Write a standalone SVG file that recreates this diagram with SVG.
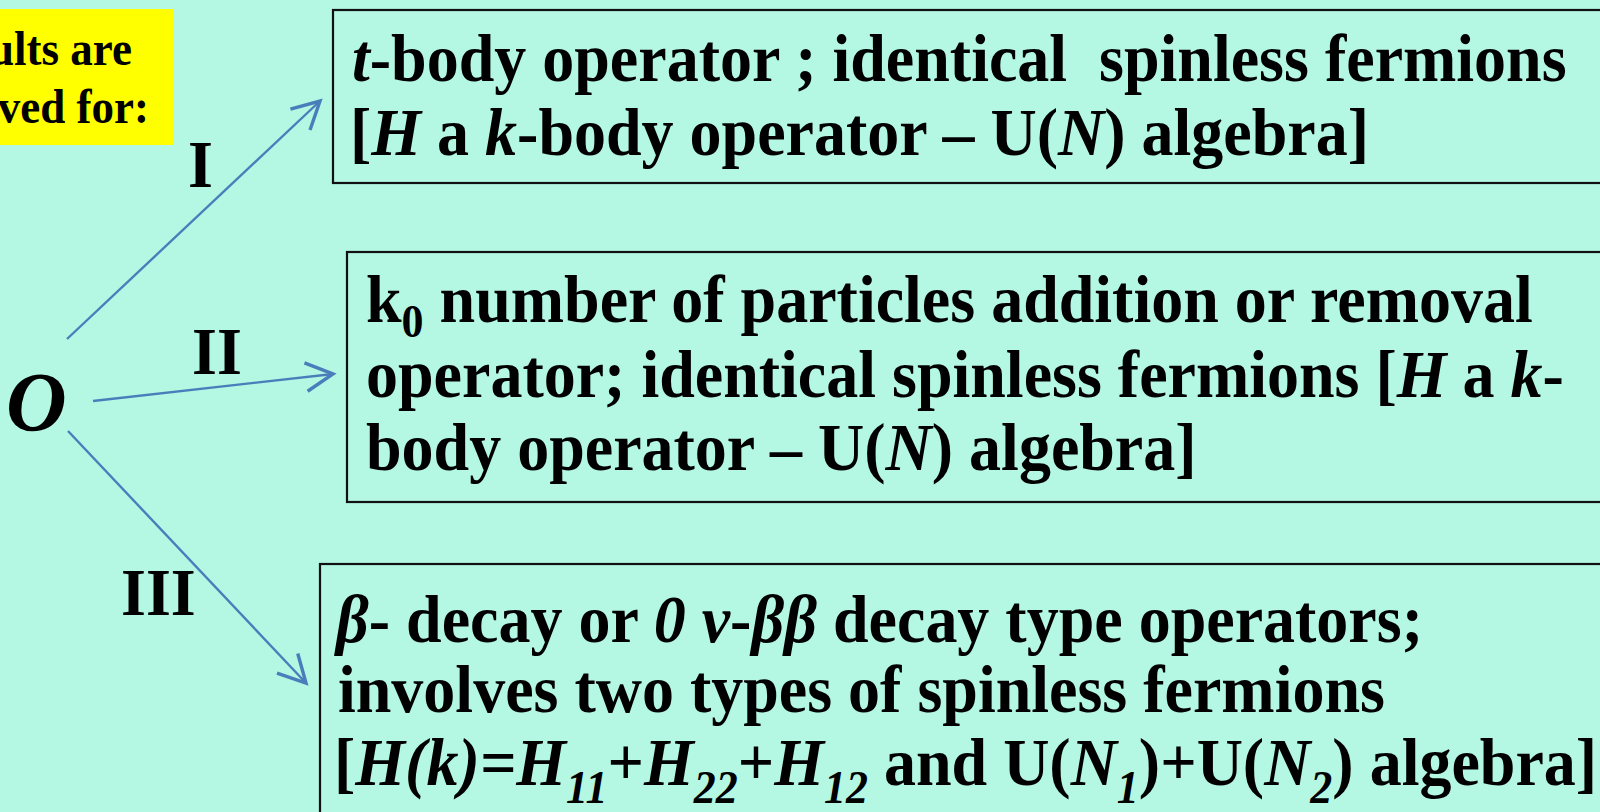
<svg xmlns="http://www.w3.org/2000/svg" width="1600" height="812" viewBox="0 0 1600 812">
<defs>
<style>
.t{font-family:"Liberation Serif","Times New Roman",serif;font-weight:bold;fill:#000;white-space:pre}
.f{font-size:64px}
.i{font-style:italic}
.sub{font-size:44px}
.box{fill:none;stroke:#111;stroke-width:2.2}
.con{fill:none;stroke:#4A7EBB;stroke-width:2.4}
</style>
<marker id="ah" markerUnits="userSpaceOnUse" markerWidth="40" markerHeight="40" refX="0" refY="0" viewBox="-22 -14 26 28" orient="auto" overflow="visible">
<path d="M -19,-10 L 0,0 L -19,10" fill="none" stroke="#4A7EBB" stroke-width="2.4"/>
</marker>
</defs>
<rect x="0" y="0" width="1600" height="812" fill="#B4F7E3"/>

<g id="note">
<rect x="0" y="9" width="173" height="136" fill="#FFFF00"/>
<text class="t" font-size="45" transform="translate(132,65) scale(1,1.07)" text-anchor="end">ults are</text>
<text class="t" font-size="45" transform="translate(149,123) scale(1,1.07)" text-anchor="end">ved for:</text>
</g>

<g id="origin">
<text class="t i" font-size="84" x="6" y="431">O</text>
</g>

<g id="connectors">
<line class="con" x1="67" y1="339" x2="320" y2="101" marker-end="url(#ah)"/>
<line class="con" x1="93" y1="401" x2="333" y2="374" marker-end="url(#ah)"/>
<line class="con" x1="68" y1="431" x2="306" y2="683" marker-end="url(#ah)"/>
<text class="t f" transform="translate(188,187) scale(1,1.05)">I</text>
<text class="t f" transform="translate(192,374) scale(1,1.05)">II</text>
<text class="t f" transform="translate(121,615) scale(1,1.05)">III</text>
</g>

<g id="box1">
<rect class="box" x="333" y="10" width="1290" height="173"/>
<text class="t f" transform="translate(352,81) scale(1,1.07)"><tspan class="i">t</tspan>-body operator ; identical  spinless fermions</text>
<text class="t f" transform="translate(350,155) scale(1,1.07)">[<tspan class="i">H</tspan> a <tspan class="i">k</tspan>-body operator – U(<tspan class="i">N</tspan>) algebra]</text>
</g>

<g id="box2">
<rect class="box" x="347" y="252" width="1280" height="250"/>
<text class="t f" transform="translate(366,322) scale(1,1.07)">k<tspan class="sub" dy="14">0</tspan><tspan dy="-14"> number of particles addition or removal</tspan></text>
<text class="t f" transform="translate(366,397) scale(1,1.07)">operator; identical spinless fermions [<tspan class="i">H</tspan> a <tspan class="i">k</tspan>-</text>
<text class="t f" transform="translate(366,470) scale(1,1.07)">body operator – U(<tspan class="i">N</tspan>) algebra]</text>
</g>

<g id="box3">
<rect class="box" x="320" y="564" width="1300" height="270"/>
<text class="t f" transform="translate(336,642) scale(1,1.07)"><tspan class="i">β</tspan>- decay or <tspan class="i">0 ν</tspan>-<tspan class="i">ββ</tspan> decay type operators;</text>
<text class="t f" transform="translate(338,712) scale(1,1.07)">involves two types of spinless fermions</text>
<text class="t f" transform="translate(334,785) scale(1,1.07)">[<tspan class="i">H(k)=H</tspan><tspan class="i sub" dy="17">11</tspan><tspan dy="-17">+</tspan><tspan class="i">H</tspan><tspan class="i sub" dy="17">22</tspan><tspan dy="-17">+</tspan><tspan class="i">H</tspan><tspan class="i sub" dy="17">12</tspan><tspan dy="-17"> and U(</tspan><tspan class="i">N</tspan><tspan class="i sub" dy="17">1</tspan><tspan dy="-17">)+U(</tspan><tspan class="i">N</tspan><tspan class="i sub" dy="17">2</tspan><tspan dy="-17">) algebra]</tspan></text>
</g>
</svg>
